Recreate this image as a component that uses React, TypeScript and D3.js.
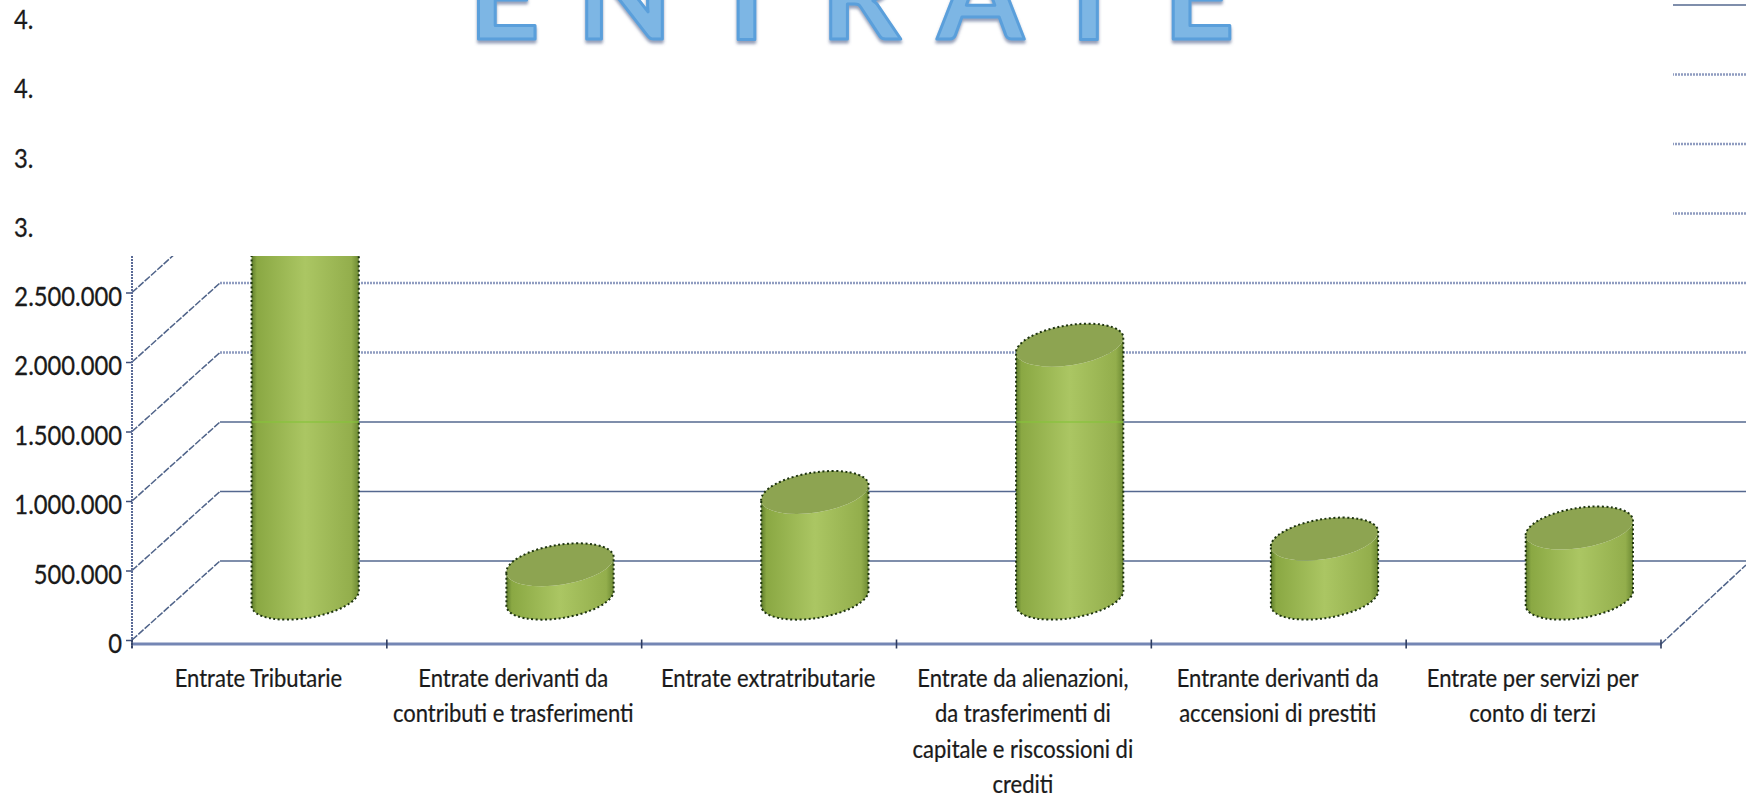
import * as d3 from "d3";
import { useEffect, useRef } from "react";

// categories, split the way the chart wraps them
const categories = [
  "Entrate Tributarie",
  "Entrate derivanti da contributi e trasferimenti",
  "Entrate extratributarie",
  "Entrate da alienazioni, da trasferimenti di capitale e riscossioni di crediti",
  "Entrante derivanti da accensioni di prestiti",
  "Entrate per servizi per conto di terzi",
];
const categoryLines = [
  ["Entrate Tributarie"],
  ["Entrate derivanti da", "contributi e trasferimenti"],
  ["Entrate extratributarie"],
  ["Entrate da alienazioni,", "da trasferimenti di", "capitale e riscossioni di", "crediti"],
  ["Entrante derivanti da", "accensioni di prestiti"],
  ["Entrate per servizi per", "conto di terzi"],
];
// first one runs off the cropped top, so its value is a guess
const values = [3500000, 240000, 760000, 1820000, 425000, 505000];

const tickValues = [0, 500000, 1000000, 1500000, 2000000, 2500000, 3000000, 3500000, 4000000, 4500000];
const tickLabels = ["0", "500.000", "1.000.000", "1.500.000", "2.000.000", "2.500.000", "3.", "3.", "4.", "4."];
const wallValues = [0, 500000, 1000000, 1500000, 2000000, 2500000, 3000000, 3500000, 4000000];

const title = "ENTRATE";

export default function App() {
  const svgRef = useRef<SVGSVGElement>(null);

  useEffect(() => {
    const svg = d3.select(svgRef.current);
    svg.selectAll("*").remove();

    const width = 1746;
    const left = 132;
    const right = 1661;
    const cropY = 256; // the white patch over the top of the chart starts here
    const depthX = 88;
    const depthY = -79;
    const font = "Lato, sans-serif";
    const squeeze = 0.88; // the scan's labels are narrow and tall

    const x = d3.scaleBand().domain(categories).range([left, right]);
    const y = d3.scaleLinear().domain([0, 4500000]).range([640, 14.5]);

    const defs = svg.append("defs");
    const grad = defs.append("linearGradient").attr("id", "body");
    [
      [0, "#5f7d2c"],
      [0.05, "#8aa843"],
      [0.5, "#abc663"],
      [0.93, "#93ae4c"],
      [1, "#6d8a33"],
    ].forEach(([o, c]) => grad.append("stop").attr("offset", o).attr("stop-color", c));
    const shadow = defs.append("filter").attr("id", "titleShadow").attr("x", "-10%").attr("y", "-10%").attr("width", "120%").attr("height", "130%");
    shadow.append("feDropShadow").attr("dx", 0).attr("dy", 3).attr("stdDeviation", 1.5).attr("flood-color", "#50608a").attr("flood-opacity", 0.6);

    const grid = svg.append("g").attr("fill", "none");
    const isDark = (d: number) => d < 1500000 || d === 4000000;

    // back wall lines, they run off the right edge
    grid.selectAll("line.wall").data(wallValues).enter().append("line")
      .attr("x1", left + depthX).attr("x2", width)
      .attr("y1", d => y(d) + depthY).attr("y2", d => y(d) + depthY)
      .attr("stroke", d => (isDark(d) ? "#55688f" : "#8f9cc0"))
      .attr("stroke-width", d => (isDark(d) ? 1.6 : 2.5))
      .attr("stroke-dasharray", d => (isDark(d) ? null : "2 1"));

    // side wall lines
    grid.selectAll("line.side").data(wallValues).enter().append("line")
      .attr("x1", left).attr("x2", left + depthX)
      .attr("y1", d => y(d)).attr("y2", d => y(d) + depthY)
      .attr("stroke", "#4f6389").attr("stroke-width", 1.5).attr("stroke-dasharray", "7 1.5");

    // floor edge on the right
    grid.append("line")
      .attr("x1", right).attr("x2", width)
      .attr("y1", y(0) + 4).attr("y2", y(0) + 4 + depthY)
      .attr("stroke", "#4f6389").attr("stroke-width", 1.5).attr("stroke-dasharray", "7 1.5");

    // cylinders
    const a = x.bandwidth() * 0.213;
    const b = 20;
    const tilt = 9;
    const rad = (tilt * Math.PI) / 180;
    const ex = a * Math.cos(rad);
    const ey = a * Math.sin(rad);

    const cyl = svg.selectAll("g.cyl").data(categories).enter().append("g").attr("class", "cyl");
    cyl.each(function (d, i) {
      const g = d3.select(this);
      const cx = (x(d) as number) + x.bandwidth() / 2 + depthX * 0.52;
      const base = y(0) + depthY * 0.53;
      const top = base - (y(0) - y(values[i]));
      const side = `M${cx - ex},${top + ey} L${cx - ex},${base + ey} A${a},${b} ${-tilt} 0 0 ${cx + ex},${base - ey} L${cx + ex},${top - ey} A${a},${b} ${-tilt} 0 1 ${cx - ex},${top + ey} Z`;
      g.append("path").attr("d", side).attr("fill", "url(#body)");
      g.append("ellipse")
        .attr("cx", cx).attr("cy", top).attr("rx", a).attr("ry", b)
        .attr("transform", `rotate(${-tilt} ${cx} ${top})`)
        .attr("fill", "#8da451");
      // jagged dark rim from the scan
      g.append("path")
        .attr("d", `M${cx - ex},${top + ey} L${cx - ex},${base + ey} A${a},${b} ${-tilt} 0 0 ${cx + ex},${base - ey} L${cx + ex},${top - ey} A${a},${b} ${-tilt} 0 0 ${cx - ex},${top + ey}`)
        .attr("fill", "none").attr("stroke", "#1e3410").attr("stroke-width", 2).attr("stroke-dasharray", "2 2.5");
      // the 1.500.000 gridline shows through the tall ones
      if (values[i] > 1500000) {
        g.append("line")
          .attr("x1", cx - ex).attr("x2", cx + ex)
          .attr("y1", y(1000000) + depthY).attr("y2", y(1000000) + depthY)
          .attr("stroke", "#86c43a").attr("stroke-width", 1.5).attr("opacity", 0.8);
      }
    });

    // white patch that hides the top of the chart, only the right stubs stay out
    svg.append("rect").attr("x", 0).attr("y", 0).attr("width", 1673).attr("height", cropY).attr("fill", "#fff");

    // y axis
    const yAxis = d3.axisLeft(y).tickValues(tickValues).tickSize(6).tickFormat((_, i) => tickLabels[i]);
    const yG = svg.append("g").attr("transform", `translate(${left},0)`).call(yAxis);
    yG.select(".domain").remove();
    yG.append("line").attr("y1", cropY).attr("y2", y(0) + 8).attr("stroke", "#5a6a96").attr("stroke-width", 2).attr("stroke-dasharray", "2 1");
    yG.selectAll(".tick line").attr("stroke", d => ((d as number) > 2500000 ? "none" : "#3f4f78")).attr("stroke-width", 1.5);
    yG.selectAll(".tick text")
      .attr("font-family", font).attr("font-size", 27).attr("fill", "#1a1a1a").attr("stroke", "#1a1a1a").attr("stroke-width", 0.3)
      .attr("dy", "0.42em").attr("x", 0)
      .attr("transform", `translate(-10,1.5) scale(${squeeze},1)`);
    yG.selectAll<SVGTextElement, number>(".tick text").filter(d => d > 2500000)
      .attr("text-anchor", "start")
      .attr("transform", `translate(${14 - left},2.5) scale(${squeeze},1)`);

    // x axis
    const xAxis = d3.axisBottom(x).tickSize(0).tickFormat(() => "");
    const xG = svg.append("g").attr("transform", `translate(0,${y(0) + 3.5})`).call(xAxis);
    xG.select(".domain").attr("stroke", "#7486b4").attr("stroke-width", 3);
    const boundaries = categories.map(c => x(c) as number).concat(right);
    xG.selectAll("line.edge").data(boundaries).enter().append("line")
      .attr("x1", d => d).attr("x2", d => d).attr("y1", -4).attr("y2", 5)
      .attr("stroke", "#2f3d60").attr("stroke-width", 1.6);

    // category labels
    categoryLines.forEach((lines, i) => {
      const t = svg.append("text")
        .attr("transform", `translate(${(x(categories[i]) as number) + x.bandwidth() / 2 - 1},0) scale(${squeeze},1)`)
        .attr("font-family", font).attr("font-size", 25).attr("fill", "#1a1a1a").attr("stroke", "#1a1a1a").attr("stroke-width", 0.25)
        .attr("text-anchor", "middle");
      lines.forEach((l, j) => {
        t.append("tspan")
          .attr("x", 0)
          .attr("y", 687 + j * 35.5)
          .text(l);
      });
    });

    // title, cropped by the top of the page
    svg.append("text")
      .attr("x", 870).attr("y", 39)
      .attr("text-anchor", "middle")
      .attr("font-family", font).attr("font-weight", 700).attr("font-size", 124)
      .attr("letter-spacing", 37)
      .attr("fill", "#7db6e4").attr("stroke", "#5a9fdb").attr("stroke-width", 3).attr("stroke-linejoin", "round")
      .attr("filter", "url(#titleShadow)")
      .text(title);
  }, []);

  return (
    <svg
      ref={svgRef}
      width={1746}
      height={800}
      style={{ position: "absolute", left: 0, top: 0, background: "#fff" }}
    />
  );
}
